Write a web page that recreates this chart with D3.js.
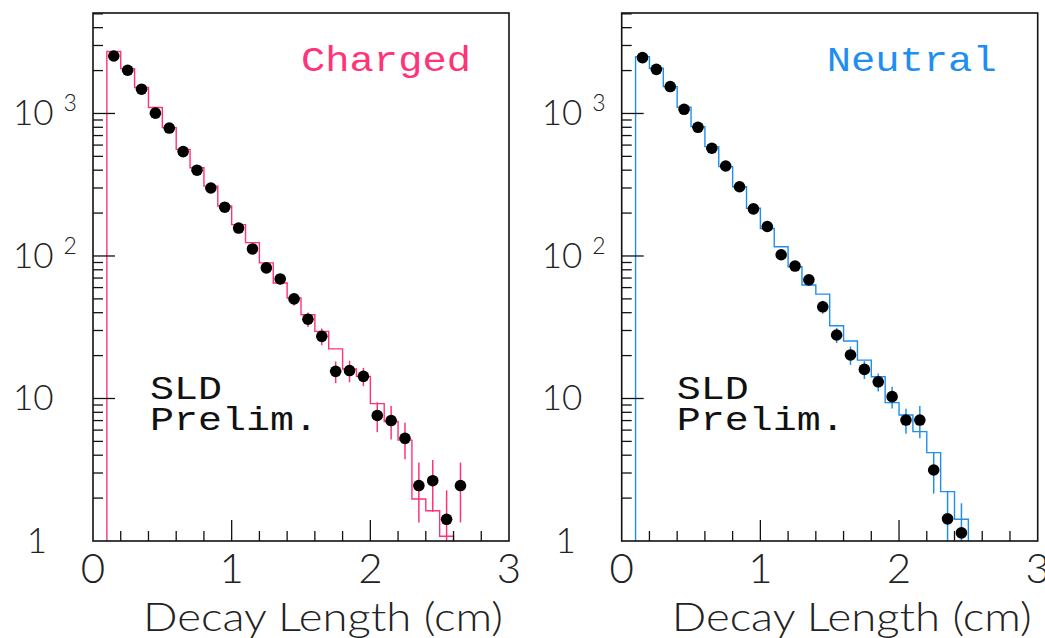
<!DOCTYPE html>
<html>
<head>
<meta charset="utf-8">
<script src="https://cdn.jsdelivr.net/npm/d3@7"></script>
<style>
  body { margin: 0; background: #fff; }
  svg { display: block; }
</style>
</head>
<body>
<div id="chart"></div>
<script>
// bin centres of the measured points (cm)
var chargedX = [0.15, 0.25, 0.35, 0.45, 0.55, 0.65, 0.75, 0.85, 0.95, 1.05, 1.15, 1.25, 1.35,
                1.45, 1.55, 1.65, 1.75, 1.85, 1.95, 2.05, 2.15, 2.25, 2.35, 2.45, 2.55, 2.65];
var chargedData = [2530, 2010, 1480, 1005, 790, 540, 400, 300, 220, 157, 112, 82.5, 69,
                   50, 36, 27.3, 15.5, 15.7, 14.3, 7.6, 7.0, 5.25, 2.45, 2.65, 1.42, 2.45];
var chargedErr = [35, 31, 27, 22, 20, 16, 14, 12, 10, 9, 7.5, 6.5, 6,
                  5, 4.2, 3.7, 2.7, 2.7, 2.1, 1.8, 1.85, 1.5, 1.1, 1.05, 0.85, 1.1];
// MC histogram, lower bin edges and contents
var chargedMCEdges = [0.1, 0.2, 0.3, 0.4, 0.5, 0.6, 0.7, 0.8, 0.9, 1.0, 1.1, 1.2, 1.3,
                      1.4, 1.5, 1.6, 1.7, 1.8, 1.9, 2.0, 2.1, 2.2, 2.3, 2.4, 2.5, 2.6];
var chargedMC = [2720, 2065, 1520, 1100, 795, 560, 416, 309, 224, 166, 124, 89.5, 64.7,
                 50.7, 38.7, 29.6, 22.3, 16.1, 14.3, 9.2, 6.9, 5.1, 1.97, 1.63, 1.08];

var neutralX = [0.15, 0.25, 0.35, 0.45, 0.55, 0.65, 0.75, 0.85, 0.95, 1.05, 1.15, 1.25, 1.35,
                1.45, 1.55, 1.65, 1.75, 1.85, 1.95, 2.05, 2.15, 2.25, 2.35, 2.45];
var neutralData = [2465, 2040, 1545, 1070, 800, 570, 428, 306, 214, 161, 102, 85, 68,
                   44, 27.9, 20.2, 16.0, 13.1, 10.3, 7.06, 7.06, 3.15, 1.43, 1.14];
var neutralErr = [34, 31, 27, 23, 20, 17, 14, 12, 10, 9, 7, 6.5, 5.8,
                  4.6, 3.4, 3.0, 2.3, 1.9, 1.8, 1.4, 1.8, 1.0, 0.8, 0.7];
var neutralMCEdges = [0.1, 0.2, 0.3, 0.4, 0.5, 0.6, 0.7, 0.8, 0.9, 1.0, 1.1, 1.2, 1.3,
                      1.4, 1.5, 1.6, 1.7, 1.8, 1.9, 2.0, 2.1, 2.2, 2.3, 2.4, 2.5];
var neutralMC = [2505, 2077, 1543, 1106, 808, 585, 424, 306, 216, 156, 116, 84, 62.6,
                 54, 32.4, 25.3, 18.6, 14.2, 9.35, 7.66, 5.85, 4.17, 2.22, 1.42];

var xTickLabels = ["0", "1", "2", "3"];
var yDecades = [1, 10, 100, 1000];
var yTickLabels = [["1", ""], ["10", ""], ["10", "2"], ["10", "3"]];

var width = 1045,
    height = 638,
    panelW = 416,
    panelH = 528,
    panelTop = 13;

var svg = d3.select('#chart')
    .append('svg')
    .attr('width', width)
    .attr('height', height);

var labelFont = 'Lato, Roboto, "DejaVu Sans", sans-serif';
var monoFont = '"Liberation Mono", "Courier New", monospace';

function drawPanel(left, opts) {
    var x = d3.scaleLinear().domain([0, 3]).range([left, left + panelW]);
    var y = d3.scaleLog().domain([1, 5070]).range([panelTop + panelH, panelTop]);
    var bottom = panelTop + panelH;

    var g = svg.append('g');
    var clipId = 'clip' + opts.name;

    g.append('clipPath')
        .attr('id', clipId)
        .append('rect')
        .attr('x', left).attr('y', panelTop)
        .attr('width', panelW).attr('height', panelH);

    // MC histogram as a step line
    var steps = opts.edges.map(function(e, i) {
        var v = i < opts.mc.length ? opts.mc[i] : y.domain()[0];
        return [e, v];
    });
    steps.unshift([opts.edges[0], y.domain()[0]]);

    var line = d3.line()
        .x(d => x(d[0]))
        .y(d => y(d[1]))
        .curve(d3.curveStepAfter);

    var plot = g.append('g').attr('clip-path', 'url(#' + clipId + ')');

    plot.append('path')
        .datum(steps)
        .attr('d', line)
        .attr('fill', 'none')
        .attr('stroke', opts.color)
        .attr('stroke-width', 1.4);

    // error bars
    plot.selectAll('line.err')
        .data(opts.xs)
        .join('line')
        .attr('class', 'err')
        .attr('x1', d => x(d))
        .attr('x2', d => x(d))
        .attr('y1', (d, i) => y(Math.max(opts.data[i] - opts.err[i], 0.5)))
        .attr('y2', (d, i) => y(opts.data[i] + opts.err[i]))
        .attr('stroke', opts.color)
        .attr('stroke-width', 1.5);

    plot.selectAll('circle')
        .data(opts.xs)
        .join('circle')
        .attr('cx', d => x(d))
        .attr('cy', (d, i) => y(opts.data[i]))
        .attr('r', 5.8)
        .attr('fill', '#000');

    // frame
    g.append('rect')
        .attr('x', left).attr('y', panelTop)
        .attr('width', panelW).attr('height', panelH)
        .attr('fill', 'none')
        .attr('stroke', '#111')
        .attr('stroke-width', 1.6);

    // x ticks
    var xMinor = d3.range(0, 3.001, 0.2).filter(v => Math.abs(v - Math.round(v)) > 1e-6);
    g.append('g').selectAll('line')
        .data(xMinor)
        .join('line')
        .attr('x1', d => x(d)).attr('x2', d => x(d))
        .attr('y1', bottom).attr('y2', bottom - 10)
        .attr('stroke', '#111').attr('stroke-width', 1.3);
    g.append('g').selectAll('line')
        .data([1, 2])
        .join('line')
        .attr('x1', d => x(d)).attr('x2', d => x(d))
        .attr('y1', bottom).attr('y2', bottom - 21)
        .attr('stroke', '#111').attr('stroke-width', 1.3);

    g.append('g').selectAll('text')
        .data(xTickLabels)
        .join('text')
        .attr('x', (d, i) => x(i))
        .attr('y', bottom + 42)
        .attr('text-anchor', 'middle')
        .style('font-family', labelFont)
        .style('font-weight', 300)
        .style('font-size', '42px')
        .attr('fill', '#222')
        .text(d => d);

    // y ticks
    var yMinor = [];
    yDecades.forEach(function(dec) {
        for (var k = 2; k <= 9; k++) {
            if (dec * k <= y.domain()[1]) yMinor.push(dec * k);
        }
    });
    g.append('g').selectAll('line')
        .data(yMinor)
        .join('line')
        .attr('x1', left).attr('x2', left + 10)
        .attr('y1', d => y(d)).attr('y2', d => y(d))
        .attr('stroke', '#111').attr('stroke-width', 1.3);
    g.append('g').selectAll('line')
        .data(yDecades.slice(1))
        .join('line')
        .attr('x1', left).attr('x2', left + 22)
        .attr('y1', d => y(d)).attr('y2', d => y(d))
        .attr('stroke', '#111').attr('stroke-width', 1.3);

    var ylab = g.append('g').selectAll('text')
        .data(yDecades)
        .join('text')
        .attr('x', (d, i) => i == 0 ? left - 46 : left - 80)
        .attr('y', d => y(d) + 12)
        .attr('text-anchor', (d, i) => i == 0 ? 'end' : 'start')
        .style('font-family', labelFont)
        .style('font-weight', 300)
        .style('font-size', '35px')
        .attr('fill', '#222');
    ylab.append('tspan').text((d, i) => yTickLabels[i][0]);
    ylab.append('tspan')
        .attr('dx', 10)
        .attr('dy', -14)
        .style('font-size', '23px')
        .text((d, i) => yTickLabels[i][1]);

    // axis title
    g.append('text')
        .attr('x', left + 50)
        .attr('y', bottom + 90)
        .attr('textLength', 360)
        .attr('lengthAdjust', 'spacingAndGlyphs')
        .style('font-family', labelFont)
        .style('font-weight', 300)
        .style('font-size', '40px')
        .attr('fill', '#222')
        .text('Decay Length (cm)');

    // panel label
    g.append('text')
        .attr('x', left + opts.labelDx)
        .attr('y', 71)
        .attr('textLength', opts.labelLen)
        .attr('lengthAdjust', 'spacingAndGlyphs')
        .style('font-family', monoFont)
        .style('font-size', '35px')
        .attr('fill', opts.color)
        .text(opts.label);

    var sld = g.append('text')
        .style('font-family', monoFont)
        .style('font-size', '34px')
        .attr('fill', '#111');
    sld.append('tspan')
        .attr('x', left + opts.sldDx).attr('y', 399)
        .attr('textLength', 72)
        .attr('lengthAdjust', 'spacingAndGlyphs')
        .text('SLD');
    sld.append('tspan')
        .attr('x', left + opts.sldDx).attr('y', 430)
        .attr('textLength', 168)
        .attr('lengthAdjust', 'spacingAndGlyphs')
        .text('Prelim.');
}

drawPanel(93, {
    name: 'charged', color: '#ff3377', label: 'Charged', labelDx: 208, labelLen: 170, sldDx: 57,
    xs: chargedX, data: chargedData, err: chargedErr, edges: chargedMCEdges, mc: chargedMC
});
drawPanel(621.7, {
    name: 'neutral', color: '#1e8ff0', label: 'Neutral', labelDx: 205, labelLen: 170, sldDx: 55,
    xs: neutralX, data: neutralData, err: neutralErr, edges: neutralMCEdges, mc: neutralMC
});
</script>
</body>
</html>
